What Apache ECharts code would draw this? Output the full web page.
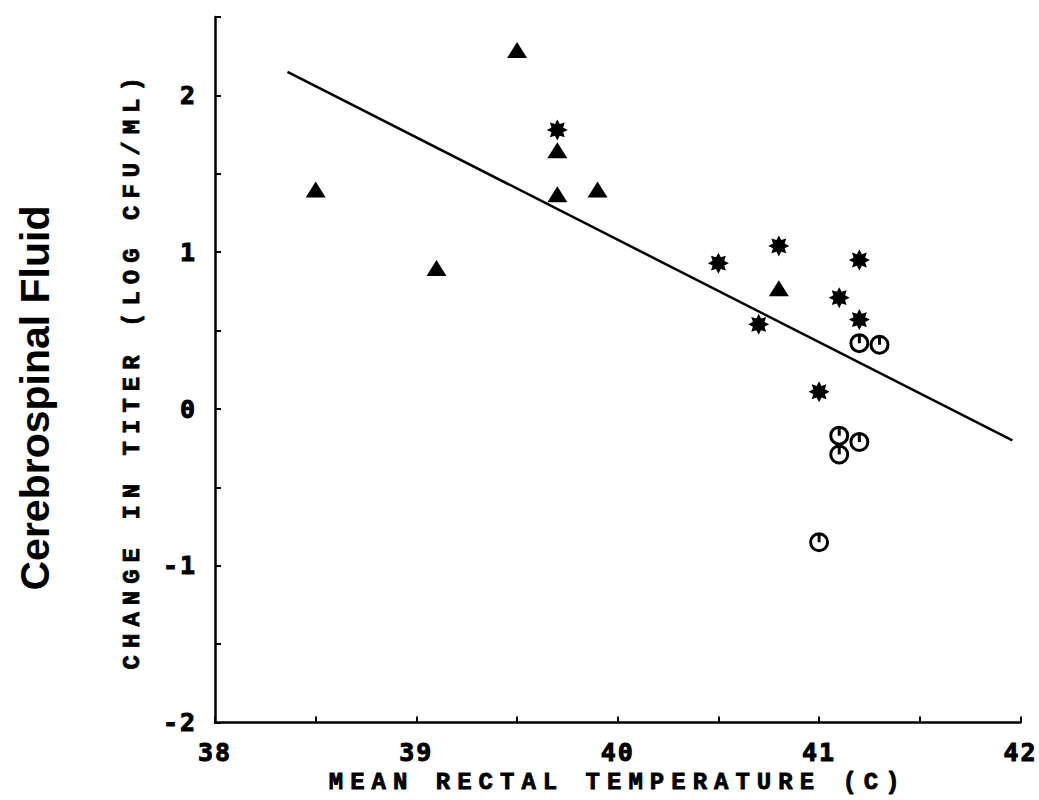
<!DOCTYPE html>
<html>
<head>
<meta charset="utf-8">
<script src="https://cdn.jsdelivr.net/npm/echarts@6/dist/echarts.min.js"></script>
<style>
  html, body { margin: 0; padding: 0; background: #fff; }
  #chart { width: 1039px; height: 800px; }
  /* old typewriter-style lettering is widely spaced */
  #chart text[style*="DejaVu Sans Mono"] { letter-spacing: 2px; }
  #chart text[style*="Liberation Mono"] { letter-spacing: 7px; }
</style>
</head>
<body>
<div id="chart"></div>
<script>
// triangles
const triTemp = [38.5, 39.1, 39.5, 39.7, 39.7, 39.9, 40.8]
const triChange = [1.4, 0.9, 2.29, 1.65, 1.37, 1.4, 0.77]

// asterisks
const starTemp = [39.7, 40.5, 40.8, 40.7, 41.1, 41.2, 41.2, 41.0]
const starChange = [1.78, 0.93, 1.04, 0.54, 0.71, 0.95, 0.57, 0.11]

// open circles
const circTemp = [41.2, 41.3, 41.1, 41.2, 41.1, 41.0]
const circChange = [0.42, 0.41, -0.17, -0.21, -0.29, -0.85]

// regression line end points
const fitTemp = [38.36, 41.96]
const fitChange = [2.15, -0.2]

const xTicks = [38, 39, 40, 41, 42]
const yTicks = [-2, -1, 0, 1, 2]

const zip = (a, b) => a.map((v, i) => [v, b[i]])

// 8-spoke asterisk
const starPath = (() => {
  let d = ''
  for (let i = 0; i < 16; i++) {
    const a = Math.PI * i / 8 - Math.PI / 2
    const r = i % 2 ? 6 : 10
    d += (i ? 'L' : 'M') + (r * Math.cos(a)).toFixed(2) + ' ' + (r * Math.sin(a)).toFixed(2) + ' '
  }
  return 'path://' + d + 'Z'
})()
const circlePath = 'path://M-8 0A8 8 0 1 0 8 0A8 8 0 1 0 -8 0ZM0 -8L0 0'

const tickFont = {
  fontFamily: 'DejaVu Sans Mono', fontWeight: 'bold', fontSize: 25, color: '#000',
  textBorderColor: '#000', textBorderWidth: 1
}
const nameFont = {
  fontFamily: 'Liberation Mono', fontWeight: 'bold', fontSize: 24, color: '#000',
  textBorderColor: '#000', textBorderWidth: 0.8
}
const axisLine = { show: true, onZero: false, lineStyle: { color: '#000', width: 2.5 } }

const option = {
  animation: false,
  backgroundColor: '#fff',
  grid: { left: 215, right: 17, top: 17, bottom: 72 },
  xAxis: {
    type: 'value', min: 38, max: 42, interval: 0.5,
    name: 'MEAN RECTAL TEMPERATURE (C)', nameLocation: 'middle', nameGap: 48,
    nameTextStyle: nameFont,
    axisLine,
    axisTick: { show: true, inside: true, length: 6, lineStyle: { color: '#000', width: 2 } },
    axisLabel: {
      ...tickFont, margin: 17,
      formatter: v => (xTicks.includes(v) ? String(v) : '')
    },
    splitLine: { show: false }
  },
  yAxis: {
    type: 'value', min: -2, max: 2.5, interval: 0.5,
    name: 'CHANGE IN TITER (LOG CFU/ML)', nameLocation: 'middle', nameGap: 71,
    nameTextStyle: nameFont,
    axisLine,
    axisTick: { show: true, inside: true, length: 6, lineStyle: { color: '#000', width: 2 } },
    axisLabel: {
      ...tickFont, margin: 18,
      formatter: v => (yTicks.includes(v) ? String(v) : '')
    },
    splitLine: { show: false }
  },
  graphic: [{
    type: 'text', x: 35, y: 398, rotation: Math.PI / 2,
    style: {
      text: 'Cerebrospinal Fluid', fontFamily: 'Liberation Sans', fontWeight: 'bold',
      fontSize: 41, fill: '#000', align: 'center', verticalAlign: 'middle'
    }
  }],
  series: [
    {
      type: 'line', data: zip(fitTemp, fitChange), symbol: 'none',
      lineStyle: { color: '#000', width: 2.5 }, z: 1
    },
    {
      type: 'scatter', data: zip(triTemp, triChange), symbol: 'triangle',
      symbolSize: [20, 16], itemStyle: { color: '#000', opacity: 1 }, z: 3
    },
    {
      type: 'scatter', data: zip(starTemp, starChange), symbol: starPath,
      symbolSize: 21, itemStyle: { color: '#000', opacity: 1 }, z: 3
    },
    {
      type: 'scatter', data: zip(circTemp, circChange), symbol: circlePath,
      symbolSize: 17,
      itemStyle: { color: 'transparent', borderColor: '#000', borderWidth: 3, opacity: 1 }, z: 3
    }
  ]
}

const chart = echarts.init(document.getElementById('chart'), null, { renderer: 'svg' })
chart.setOption(option)
</script>
</body>
</html>
